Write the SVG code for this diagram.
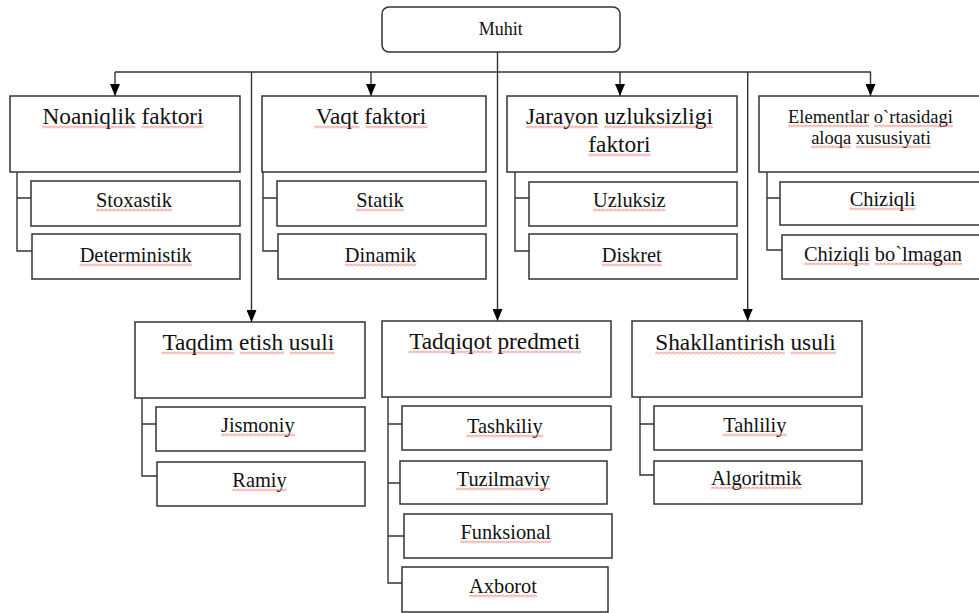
<svg xmlns="http://www.w3.org/2000/svg" width="979" height="613" viewBox="0 0 979 613">
<style>
.box{fill:#fff;stroke:#333;stroke-width:1.5}
.ln{fill:none;stroke:#333;stroke-width:1.4}
text{font-family:"Liberation Serif","Times New Roman",serif;fill:#111;text-anchor:middle}
.h{font-size:23.3px}
.c{font-size:20.4px}
.e{font-size:18.5px}
.m{font-size:18px}
.sq{fill:url(#sq)}
</style>
<defs>
<marker id="arr" viewBox="0 0 12 10" refX="12" refY="5" markerWidth="12" markerHeight="10" markerUnits="userSpaceOnUse" orient="auto">
<path d="M0 0 L12 5 L0 10 z" fill="#000"/>
</marker>
<pattern id="sq" patternUnits="userSpaceOnUse" width="4" height="3">
<path d="M0 2.5 L2 0.5 L4 2.5" fill="none" stroke="#e23a3a" stroke-width="0.9"/>
</pattern>
</defs>
<rect width="979" height="613" fill="#fff"/>

<g id="connectors">
<path class="ln" d="M497.5 42 V321" marker-end="url(#arr)"/>
<path class="ln" d="M115 72 H871"/>
<path class="ln" d="M115 72 V96" marker-end="url(#arr)"/>
<path class="ln" d="M371 72 V96" marker-end="url(#arr)"/>
<path class="ln" d="M620 72 V96" marker-end="url(#arr)"/>
<path class="ln" d="M870.5 72 V96" marker-end="url(#arr)"/>
<path class="ln" d="M251.5 72 V322" marker-end="url(#arr)"/>
<path class="ln" d="M747.7 72 V321" marker-end="url(#arr)"/>
<path class="ln" d="M17 172 V251 H32 M17 198 H31"/>
<path class="ln" d="M263 172 V251 H278 M263 198 H277"/>
<path class="ln" d="M515 172 V251 H529 M515 198 H529"/>
<path class="ln" d="M767 172 V250 H782 M767 198 H780"/>
<path class="ln" d="M142 398 V476 H157 M142 424 H156"/>
<path class="ln" d="M388 397 V583 H402 M388 424 H402 M388 483 H400 M388 536 H404"/>
<path class="ln" d="M640 397 V475 H654 M640 424 H654"/>
</g>

<g id="muhit"><rect class="box" x="382" y="7" width="238" height="45" rx="7"/><text class="m" x="500.8" y="35">Muhit</text></g>

<g id="noaniqlik"><rect class="box" x="10" y="96" width="230" height="76"/><text class="h" x="123" y="124">Noaniqlik faktori</text></g>
<g id="vaqt"><rect class="box" x="262" y="96" width="224" height="76"/><text class="h" x="371" y="124">Vaqt faktori</text></g>
<g id="jarayon"><rect class="box" x="507" y="96" width="230" height="76"/><text class="h" x="619.4" y="124">Jarayon uzluksizligi</text><text class="h" x="619.4" y="152">faktori</text></g>
<g id="elementlar"><rect class="box" x="759" y="96" width="235" height="76"/><text class="e" x="870.5" y="123">Elementlar o`rtasidagi</text><text class="e" x="871" y="144">aloqa xususiyati</text></g>

<g id="stoxastik"><rect class="box" x="31" y="181" width="209" height="45"/><text class="c" x="134" y="207">Stoxastik</text></g>
<g id="deterministik"><rect class="box" x="32" y="234" width="208" height="45"/><text class="c" x="135.7" y="262">Deterministik</text></g>
<g id="statik"><rect class="box" x="277" y="181" width="209" height="45"/><text class="c" x="380" y="207">Statik</text></g>
<g id="dinamik"><rect class="box" x="278" y="234" width="208" height="45"/><text class="c" x="380.5" y="262">Dinamik</text></g>
<g id="uzluksiz"><rect class="box" x="529" y="182" width="208" height="44"/><text class="c" x="629.2" y="207">Uzluksiz</text></g>
<g id="diskret"><rect class="box" x="529" y="234" width="208" height="45"/><text class="c" x="631.7" y="262">Diskret</text></g>
<g id="chiziqli"><rect class="box" x="780" y="182" width="210" height="43"/><text class="c" x="882.5" y="206">Chiziqli</text></g>
<g id="chiziqli-bolmagan"><rect class="box" x="782" y="235" width="210" height="44"/><text class="c" x="883" y="261">Chiziqli bo`lmagan</text></g>

<g id="taqdim"><rect class="box" x="135" y="322" width="230" height="76"/><text class="h" x="248.3" y="350">Taqdim etish usuli</text></g>
<g id="tadqiqot"><rect class="box" x="382" y="321" width="229" height="76"/><text class="h" x="494.7" y="349">Tadqiqot predmeti</text></g>
<g id="shakllantirish"><rect class="box" x="632" y="321" width="230" height="76"/><text class="h" x="745.5" y="350">Shakllantirish usuli</text></g>

<g id="jismoniy"><rect class="box" x="156" y="407" width="209" height="44"/><text class="c" x="257.8" y="432">Jismoniy</text></g>
<g id="ramiy"><rect class="box" x="157" y="462" width="208" height="44"/><text class="c" x="259.5" y="487">Ramiy</text></g>
<g id="tashkiliy"><rect class="box" x="402" y="406" width="209" height="44"/><text class="c" x="504.8" y="433">Tashkiliy</text></g>
<g id="tuzilmaviy"><rect class="box" x="400" y="461" width="207" height="43"/><text class="c" x="503.3" y="486">Tuzilmaviy</text></g>
<g id="funksional"><rect class="box" x="404" y="514" width="208" height="44"/><text class="c" x="505.7" y="539">Funksional</text></g>
<g id="axborot"><rect class="box" x="402" y="567" width="206" height="45"/><text class="c" x="503" y="593">Axborot</text></g>
<g id="tahliliy"><rect class="box" x="654" y="406" width="208" height="44"/><text class="c" x="754.8" y="432">Tahliliy</text></g>
<g id="algoritmik"><rect class="box" x="654" y="461" width="208" height="43"/><text class="c" x="756.3" y="485">Algoritmik</text></g>

<g id="spellcheck">
<rect class="sq" transform="translate(42.4,125.5)" width="93.2" height="3"/>
<rect class="sq" transform="translate(141.4,125.5)" width="62.1" height="3"/>
<rect class="sq" transform="translate(314.4,125.5)" width="45.3" height="3"/>
<rect class="sq" transform="translate(365.5,125.5)" width="62.1" height="3"/>
<rect class="sq" transform="translate(525.9,125.5)" width="72.5" height="3"/>
<rect class="sq" transform="translate(604.2,125.5)" width="108.7" height="3"/>
<rect class="sq" transform="translate(588.3,153.5)" width="62.1" height="3"/>
<rect class="sq" transform="translate(788,124.5)" width="81.2" height="3"/>
<rect class="sq" transform="translate(873.8,124.5)" width="79.1" height="3"/>
<rect class="sq" transform="translate(811.1,145.5)" width="40.1" height="3"/>
<rect class="sq" transform="translate(855.8,145.5)" width="75" height="3"/>
<rect class="sq" transform="translate(161.6,351.5)" width="72.5" height="3"/>
<rect class="sq" transform="translate(239.9,351.5)" width="44" height="3"/>
<rect class="sq" transform="translate(289.7,351.5)" width="45.3" height="3"/>
<rect class="sq" transform="translate(408.3,350.5)" width="84.1" height="3"/>
<rect class="sq" transform="translate(498.2,350.5)" width="82.8" height="3"/>
<rect class="sq" transform="translate(655.2,351.5)" width="129.5" height="3"/>
<rect class="sq" transform="translate(790.5,351.5)" width="45.3" height="3"/>
<rect class="sq" transform="translate(96,208.5)" width="75.9" height="3"/>
<rect class="sq" transform="translate(79.6,263.5)" width="112.2" height="3"/>
<rect class="sq" transform="translate(356.2,208.5)" width="47.6" height="3"/>
<rect class="sq" transform="translate(344.8,263.5)" width="71.4" height="3"/>
<rect class="sq" transform="translate(593,208.5)" width="72.5" height="3"/>
<rect class="sq" transform="translate(601.7,263.5)" width="60" height="3"/>
<rect class="sq" transform="translate(849.6,207.5)" width="65.7" height="3"/>
<rect class="sq" transform="translate(803.9,262.5)" width="65.7" height="3"/>
<rect class="sq" transform="translate(874.7,262.5)" width="87.3" height="3"/>
<rect class="sq" transform="translate(221,433.5)" width="73.7" height="3"/>
<rect class="sq" transform="translate(232.3,488.5)" width="54.4" height="3"/>
<rect class="sq" transform="translate(466.2,434.5)" width="77.1" height="3"/>
<rect class="sq" transform="translate(456.2,487.5)" width="94.1" height="3"/>
<rect class="sq" transform="translate(460.3,540.5)" width="90.7" height="3"/>
<rect class="sq" transform="translate(469,594.5)" width="68" height="3"/>
<rect class="sq" transform="translate(722.5,433.5)" width="64.6" height="3"/>
<rect class="sq" transform="translate(711,486.5)" width="90.7" height="3"/>
</g>
</svg>
